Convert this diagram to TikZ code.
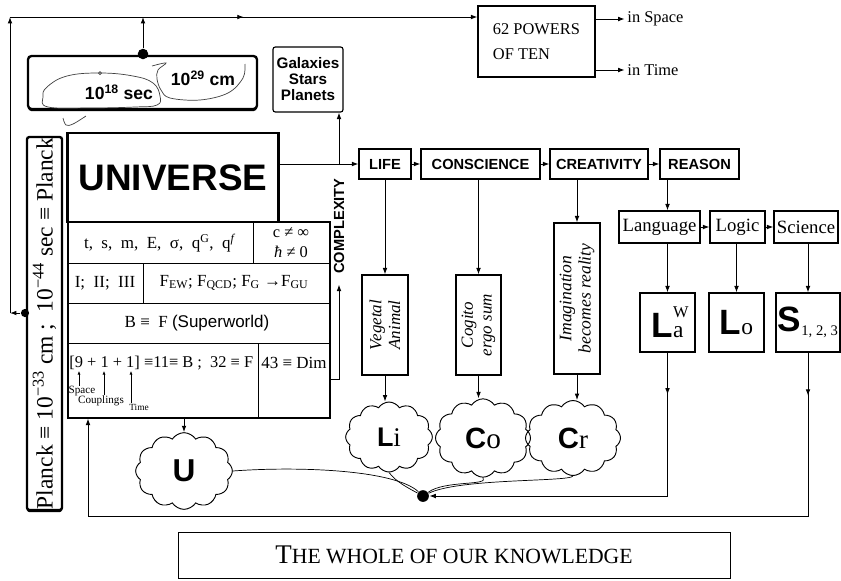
\documentclass[tikz,border=0pt]{standalone}
\usepackage{fontspec}
\setmainfont{Liberation Serif}
\setsansfont{Liberation Sans}
\usetikzlibrary{arrows.meta,shapes.symbols,shadows,decorations.markings}
\newcommand\fsz[2]{\fontsize{#1}{#2}\selectfont}
\begin{document}
\begin{tikzpicture}[x=0.03cm,y=-0.03cm,line width=0.8pt,
    >={Latex[length=5.5pt,width=4pt]},
    box/.style={draw,inner sep=0pt,line width=1pt},
    wh/.style 2 args={minimum width=#1*0.03cm,minimum height=#2*0.03cm},
    hd/.style={font=\sffamily\bfseries\fsz{12.5}{14}},
    rm/.style={font=\fsz{16}{18}},
    tab/.style={font=\fsz{14.5}{16.5}},
    vert/.style={rotate=90,align=center,font=\itshape\fsz{14.5}{16}},
    dot/.style={circle,fill,inner sep=0pt,minimum size=#1},
    blob/.style={cloud,draw,cloud puffs=12,cloud puff arc=115,inner sep=0pt,line width=0.8pt},
    wire/.style={line width=0.6pt},
    heavy/.style={fill=white,line width=2pt,rounded corners=3pt,
      drop shadow={shadow xshift=0pt,shadow yshift=-1.8pt,opacity=1,fill=black}},
    midarrow/.style={postaction={decorate},decoration={markings,mark=at position #1 with {\arrow{>}}}}]
\useasboundingbox (0,0) rectangle (841,580);

% scales of the cosmos
\node[box,heavy,wh={229}{53}] (cosmos) at (142.5,82.5) {};
\draw[wire,black!75] plot[smooth cycle,tension=0.7] coordinates {(47,87) (67,76) (100,73) (133,76) (153,83) (160,96) (157,105) (135,107) (90,108) (48,107) (43,97)};
\draw[wire,black!75] (100,73) circle (1.5);
\draw[wire,black!75] plot[smooth,tension=0.6] coordinates {(152,66) (166,63) (158,70) (157,79) (161,90) (170,98) (200,100) (228,93) (243,78) (245,64)};
\draw[wire,black!75] plot[smooth,tension=0.6] coordinates {(63,118) (66,125) (73,124) (86,116)};
\node[font=\sffamily\bfseries\fsz{15}{15}] (tsec) at (119,92) {10\textsuperscript{18} sec};
\node[font=\sffamily\bfseries\fsz{15}{15}] (tcm) at (203,78) {10\textsuperscript{29} cm};
\node[dot=9pt] (cdot) at (143,54) {};
\node[box,rounded corners=2pt,wh={70}{65},align=center,font=\sffamily\bfseries\fsz{13}{13.7}] (galaxies) at (308,79.5) {Galaxies\\Stars\\Planets};
\node[box,wh={117}{71},align=left,font=\fsz{14}{21}] (powers) at (536.5,41.5) {62 POWERS\\OF TEN};
\node[anchor=west,inner sep=0pt,font=\fsz{14}{16}] (inspace) at (627,19) {in Space};
\node[anchor=west,inner sep=0pt,font=\fsz{14}{16}] (intime) at (627,70) {in Time};

% Planck bar
\node[box,heavy,rounded corners=2pt,wh={35}{373}] (planck) at (44.5,323.5) {};
\node[rotate=90,font=\fsz{20}{22}] (plancktxt) at (planck) {Planck ≡ 10\textsuperscript{−33} cm ;\ \ 10\textsuperscript{−44} sec ≡ Planck};
\node[dot=7pt] (pdot) at (25,313) {};
\coordinate (bc) at (10,313);
\coordinate (tl) at (10,17);

% universe and its table
\node[box,wh={210}{89},font=\sffamily\bfseries\fsz{31.5}{34}] (universe) at (173,177.5) {UNIVERSE};
\draw[line width=3pt] (universe.north west) -- (universe.south west);
\draw[line width=3pt] (universe.north east) -- (universe.south east);
\node[box,wh={262}{196}] (table) at (199,320) {};
\draw (68,263) -- (330,263);
\draw (68,303) -- (330,303);
\draw (68,343) -- (330,343);
\draw (253,222) -- (253,263);
\draw (143,263) -- (143,303);
\draw (258,343) -- (258,418);
\node[tab] (qty) at (160,243) {t,~ s,~ m,~ E,~ σ,~ q\textsuperscript{G},~ q\textsuperscript{\textit{f}}};
\node[tab,align=center,font=\fsz{14}{17}] (limits) at (291,243) {c ≠ ∞\\\textit{ħ} ≠ 0};
\node[tab] (fam) at (105,283) {I;~ II;~ III};
\node[tab] (forces) at (234,283) {F\textsubscript{EW}; F\textsubscript{QCD}; F\textsubscript{G} →F\textsubscript{GU}};
\node[tab] (superw) at (197,323) {B ≡~ F {\sffamily(Superworld)}};
\node[tab,anchor=west,inner sep=0pt,font=\fsz{14}{16}] (dims) at (69,363) {[9 + 1 + 1] ≡11≡ B ;~ 32 ≡ F};
\node[tab] (dim) at (294,363) {43 ≡ Dim};
\node[inner sep=0pt,font=\fsz{9.5}{10}] (spc) at (82,391) {Space};
\node[inner sep=0pt,font=\fsz{9.5}{10}] (cpl) at (101,401) {Couplings};
\node[inner sep=0pt,font=\fsz{8}{9}] (tim) at (139,407) {Time};
\coordinate (n9) at (79,371);
\coordinate (n1) at (104,371);
\coordinate (n2) at (131,371);
\node[hd,rotate=90,inner sep=0pt] (cplx) at (339,226) {COMPLEXITY};
\coordinate (cbase) at (330,379);

% chain of the mind
\node[box,hd,wh={52}{30}] (life) at (385,164) {LIFE};
\node[box,hd,wh={119}{30}] (consc) at (480.5,164) {CONSCIENCE};
\node[box,hd,wh={98}{30}] (creat) at (599,164) {CREATIVITY};
\node[box,hd,wh={79}{30}] (reason) at (699.5,164) {REASON};
\node[box,rm,wh={81}{32}] (language) at (659.5,227) {Language};
\node[box,rm,wh={55}{32}] (logic) at (737.5,227) {Logic};
\node[box,rm,wh={64}{32}] (science) at (806,227) {Science};
\node[box,wh={46}{100}] (vegetal) at (385,325) {};
\node[vert] (vegtxt) at (vegetal) {Vegetal\\Animal};
\node[box,wh={45}{100}] (cogito) at (478.5,325) {};
\node[vert] (cogtxt) at (cogito) {Cogito\\ergo sum};
\node[box,wh={46}{151}] (imagin) at (577,298.5) {};
\node[vert,font=\itshape\fsz{15}{16.5}] (imgtxt) at (imagin) {Imagination\\becomes reality};
\node[box,wh={55}{59}] (La) at (667.5,322.5) {{\sffamily\bfseries\fsz{30}{30}L}\rlap{\raisebox{17pt}{\fsz{14}{14}W}}{\fsz{20}{20}a}};
\node[box,wh={55}{59}] (Lo) at (736.5,322.5) {{\sffamily\bfseries\fsz{30}{30}L}{\fsz{20}{20}o}};
\node[box,wh={64}{59}] (S) at (808,322.5) {{\sffamily\bfseries\fsz{30}{30}S}\raisebox{-3pt}{\fsz{12.5}{13}1, 2, 3}};

% clouds
\node[blob,minimum width=2.9cm,minimum height=2.3cm] (U) at (184,471) {\sffamily\bfseries\fsz{27}{27}U};
\node[blob,minimum width=2.6cm,minimum height=2.1cm] (Li) at (389,437) {{\sffamily\bfseries\fsz{23}{23}L}{\fsz{23}{23}i}};
\node[blob,minimum width=2.85cm,minimum height=2.35cm] (Co) at (483,438) {{\sffamily\bfseries\fsz{25}{25}C}{\fsz{25}{25}o}};
\node[blob,minimum width=2.85cm,minimum height=2.25cm] (Cr) at (573,438) {{\sffamily\bfseries\fsz{25}{25}C}{\fsz{23}{23}r}};
\node[dot=10pt] (kdot) at (423,496) {};
\coordinate (bl) at (88,516);
\node[box,line width=0.8pt,wh={552}{46}] (whole) at (454,555) {{\fsz{23}{23}T}{\fsz{18.5}{19}HE WHOLE OF OUR KNOWLEDGE}};

% connectors
\draw[->] (pdot) -- (bc);
\draw[->] (bc) -- (tl);
\draw[->,midarrow=0.5] (tl) -- (tl -| powers.west);
\draw[->] (cdot) -- (cdot |- tl);
\draw[->] (inspace.west -| powers.east) -- ([xshift=-2pt]inspace.west);
\draw[->] (intime.west -| powers.east) -- ([xshift=-2pt]intime.west);
\draw[->] (life.west -| universe.east) -- (life.west);
\draw[->] (life.west -| cplx) -- (galaxies.south -| cplx);
\draw[->,shorten >=9pt] (cbase) -| (cplx.west);
\draw[->,line width=0.5pt,>={Latex[length=3pt,width=2.5pt]}] (spc.north -| n9) -- (n9);
\draw[->,line width=0.5pt,>={Latex[length=3pt,width=2.5pt]}] (cpl.north -| n1) -- (n1);
\draw[->,line width=0.5pt,>={Latex[length=3pt,width=2.5pt]}] (tim.north -| n2) -- (n2);
\draw[->] (life) -- (consc);
\draw[->] (consc) -- (creat);
\draw[->] (creat) -- (reason);
\draw[->] (La.north |- reason.south) -- (La.north |- language.north);
\draw[->] (language) -- (logic);
\draw[->] (logic) -- (science);
\draw[->] (vegetal.north |- life.south) -- (vegetal.north);
\draw[->] (cogito.north |- consc.south) -- (cogito.north);
\draw[->] (imagin.north |- creat.south) -- (imagin.north);
\draw[->] (La.north |- language.south) -- (La.north);
\draw[->] (Lo.north |- logic.south) -- (Lo.north);
\draw[->] (S.north |- science.south) -- (S.north);
\draw[->] (vegetal.south) -- (Li.north -| vegetal.south);
\draw[->] (cogito.south) -- (Co.north -| cogito.south);
\draw[->] (imagin.south) -- (Cr.north -| imagin.south);
\draw[->] (table.south -| U.north) -- (U.north);
\draw[wire] (U.east) .. controls (300,466) and (395,470) .. (kdot);
\draw[wire] (Li.south) .. controls (396,482) and (410,489) .. (kdot);
\draw[wire] (Co.south) .. controls (490,486) and (445,480) .. (kdot);
\draw[wire] (Cr.south) .. controls (570,482) and (460,478) .. (kdot);
\draw[->,midarrow=0.11] (La.south) |- (kdot);
\draw[->,midarrow=0.044] (S.south) |- (bl) -- (bl |- table.south);
\end{tikzpicture}
\end{document}
